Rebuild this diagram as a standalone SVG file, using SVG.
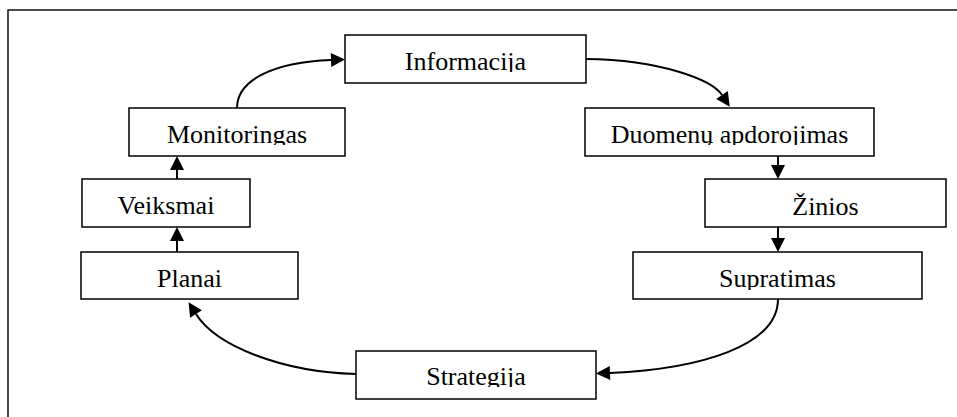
<svg xmlns="http://www.w3.org/2000/svg" width="957" height="417" viewBox="0 0 957 417">
  <style>
    .box { fill: #ffffff; stroke: #000000; stroke-width: 1.5; }
    .lbl { font-family: "Liberation Serif", "Times New Roman", serif; font-size: 26px; fill: #000000; text-anchor: middle; }
    .edge { fill: none; stroke: #000000; stroke-width: 2; marker-end: url(#head); }
    .frame { fill: none; stroke: #000000; stroke-width: 1.4; }
  </style>
  <defs>
    <marker id="head" markerUnits="userSpaceOnUse" markerWidth="16" markerHeight="16" refX="0" refY="7" orient="auto" overflow="visible">
      <path d="M0,0 L14,7 L0,14 Z" fill="#000000"/>
    </marker>
    <!-- text frames clip descenders just below the baseline -->
    <clipPath id="c-info"><rect x="345" y="35" width="241" height="37"/></clipPath>
    <clipPath id="c-duom"><rect x="585" y="108" width="289" height="37"/></clipPath>
    <clipPath id="c-zin"><rect x="705" y="179" width="241" height="38"/></clipPath>
    <clipPath id="c-sup"><rect x="633" y="252" width="289" height="38"/></clipPath>
    <clipPath id="c-str"><rect x="356" y="351" width="240" height="36"/></clipPath>
    <clipPath id="c-pla"><rect x="81" y="252" width="217" height="38"/></clipPath>
    <clipPath id="c-vei"><rect x="82" y="179" width="168" height="38"/></clipPath>
    <clipPath id="c-mon"><rect x="129" y="108" width="216" height="37"/></clipPath>
  </defs>

  <rect class="frame" x="8" y="10" width="1000" height="500"/>

  <g id="connectors">
    <path class="edge" d="M237,108 C237,79 276,62 331,60"/>
    <path class="edge" d="M586,59 C662,60 712,80 722,95"/>
    <path class="edge" d="M778,156 L778,165"/>
    <path class="edge" d="M778,227 L778,238"/>
    <path class="edge" d="M778,299 C778,346 700,369 610,373"/>
    <path class="edge" d="M356,374 C282,372 216,346 196,314"/>
    <path class="edge" d="M177,252 L177,241"/>
    <path class="edge" d="M177,179 L177,170"/>
  </g>

  <g id="informacija">
    <rect class="box" x="345" y="35" width="241" height="48"/>
    <text class="lbl" x="465.5" y="70" clip-path="url(#c-info)">Informacija</text>
  </g>
  <g id="duomenu-apdorojimas">
    <rect class="box" x="585" y="108" width="289" height="48"/>
    <text class="lbl" x="729.5" y="143" clip-path="url(#c-duom)">Duomenų apdorojimas</text>
  </g>
  <g id="zinios">
    <rect class="box" x="705" y="179" width="241" height="48"/>
    <text class="lbl" x="825.5" y="215" clip-path="url(#c-zin)">Žinios</text>
  </g>
  <g id="supratimas">
    <rect class="box" x="633" y="252" width="289" height="47"/>
    <text class="lbl" x="777.5" y="287" clip-path="url(#c-sup)">Supratimas</text>
  </g>
  <g id="strategija">
    <rect class="box" x="356" y="351" width="240" height="48"/>
    <text class="lbl" x="476" y="385" clip-path="url(#c-str)">Strategija</text>
  </g>
  <g id="planai">
    <rect class="box" x="81" y="252" width="217" height="47"/>
    <text class="lbl" x="189.5" y="287" clip-path="url(#c-pla)">Planai</text>
  </g>
  <g id="veiksmai">
    <rect class="box" x="82" y="179" width="168" height="48"/>
    <text class="lbl" x="166" y="214" clip-path="url(#c-vei)">Veiksmai</text>
  </g>
  <g id="monitoringas">
    <rect class="box" x="129" y="108" width="216" height="48"/>
    <text class="lbl" x="237" y="143" clip-path="url(#c-mon)">Monitoringas</text>
  </g>
</svg>
